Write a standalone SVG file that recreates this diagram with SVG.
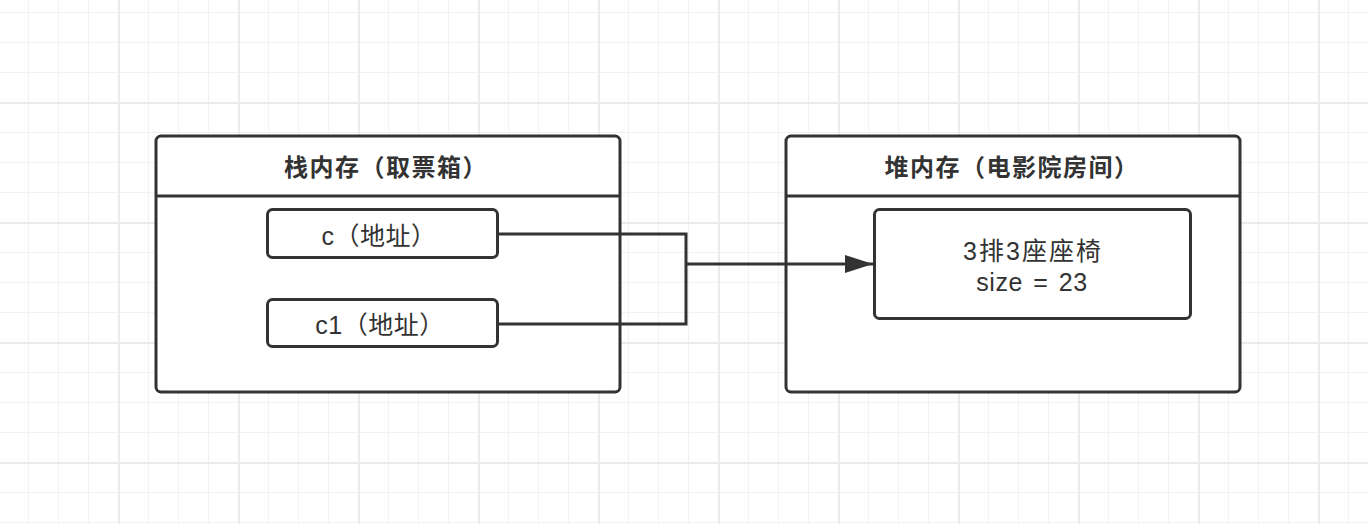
<svg xmlns="http://www.w3.org/2000/svg" width="1368" height="524" viewBox="0 0 1368 524">
<defs>
<pattern id="minor" patternUnits="userSpaceOnUse" x="28" y="12" width="30" height="30">
<rect x="0" y="0" width="1" height="30" fill="#f2f2f2"/>
<rect x="0" y="0" width="30" height="1" fill="#f2f2f2"/>
</pattern>
<pattern id="major" patternUnits="userSpaceOnUse" x="118" y="102" width="120" height="120">
<rect x="0" y="0" width="2" height="120" fill="#ebebeb"/>
<rect x="0" y="0" width="120" height="2" fill="#ebebeb"/>
</pattern>
<marker id="arrow" markerUnits="userSpaceOnUse" markerWidth="30" markerHeight="20" refX="28" refY="9" orient="auto">
<path d="M0,0 L28,9 L0,18 Z" fill="#333"/>
</marker>
</defs>
<style>
.box{fill:#fff;stroke:#333;stroke-width:3}
.sep{stroke:#333;stroke-width:3}
.title{font-family:"Liberation Sans","Noto Sans CJK SC",sans-serif;font-size:24px;font-weight:bold;fill:#333;text-anchor:middle;letter-spacing:1.5px}
.lbl{font-family:"Liberation Sans","Noto Sans CJK SC",sans-serif;font-size:25px;fill:#333;text-anchor:middle}
.conn{fill:none;stroke:#333;stroke-width:3}
</style>
<rect width="1368" height="524" fill="#fff"/>
<rect width="1368" height="524" fill="url(#minor)"/>
<rect width="1368" height="524" fill="url(#major)"/>
<g id="stack">
<rect class="box" x="156" y="136" width="464" height="256" rx="5"/>
<line class="sep" x1="156" y1="196" x2="620" y2="196"/>
<text class="title" x="386" y="175.5">栈内存（取票箱）</text>
</g>
<g id="c">
<rect class="box" x="267.5" y="209.5" width="230" height="48" rx="5"/>
<text class="lbl" x="379" y="244.5" letter-spacing="0.5">c（地址）</text>
</g>
<g id="c1">
<rect class="box" x="267.5" y="299.5" width="230" height="47" rx="5"/>
<text class="lbl" x="380" y="333.5" letter-spacing="0.5">c1（地址）</text>
</g>
<g id="heap">
<rect class="box" x="786" y="136" width="454" height="256" rx="5"/>
<line class="sep" x1="786" y1="196" x2="1240" y2="196"/>
<text class="title" x="1012" y="175.5">堆内存（电影院房间）</text>
</g>
<g id="seat">
<rect class="box" x="874.5" y="209.5" width="316" height="109" rx="5"/>
<text class="lbl" x="1033" y="259.5" letter-spacing="2">3排3座座椅</text>
<text class="lbl" x="1032" y="291" letter-spacing="0.5" word-spacing="3">size = 23</text>
</g>
<g id="connectors">
<polyline class="conn" points="498,234 686,234 686,264"/>
<polyline class="conn" points="498,324 686,324 686,264"/>
<line class="conn" x1="686" y1="264" x2="873" y2="264" marker-end="url(#arrow)"/>
</g>
</svg>
